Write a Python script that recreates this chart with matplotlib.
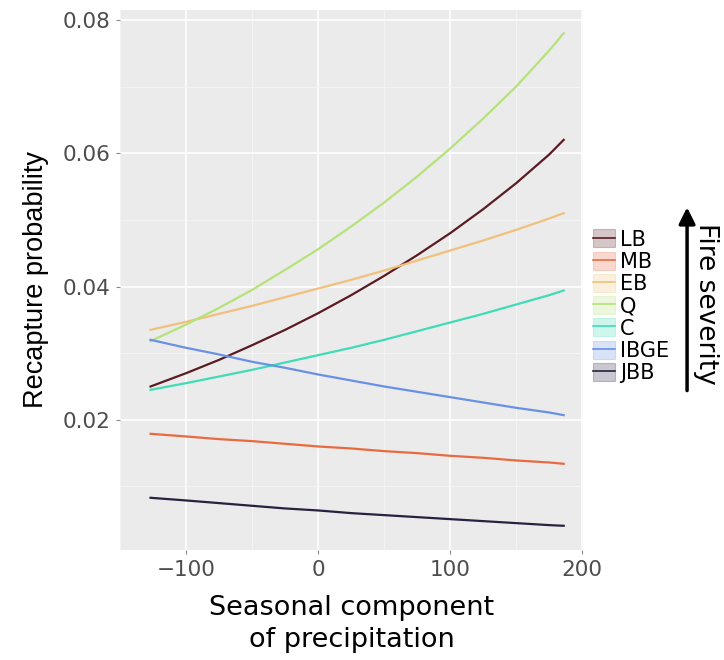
import matplotlib
matplotlib.use('Agg')
import matplotlib.pyplot as plt
from matplotlib.patches import Patch, FancyArrowPatch
from matplotlib.lines import Line2D

x = [-127, -100, -75, -50, -25, 0, 25, 50, 75, 100, 125, 150, 175, 186]

LB = [0.0250, 0.0270, 0.0290, 0.0312, 0.0335, 0.0360, 0.0387, 0.0416, 0.0447,
      0.0480, 0.0516, 0.0555, 0.0598, 0.0620]
MB = [0.0179, 0.0175, 0.0171, 0.0168, 0.0164, 0.0160, 0.0157, 0.0153, 0.0150,
      0.0146, 0.0143, 0.0139, 0.0136, 0.0134]
EB = [0.0335, 0.0347, 0.0359, 0.0371, 0.0384, 0.0397, 0.0410, 0.0424, 0.0439,
      0.0454, 0.0469, 0.0485, 0.0502, 0.0510]
Q = [0.0318, 0.0343, 0.0368, 0.0395, 0.0425, 0.0456, 0.0490, 0.0526, 0.0565,
     0.0607, 0.0652, 0.0700, 0.0754, 0.0780]
C = [0.0245, 0.0255, 0.0265, 0.0275, 0.0286, 0.0297, 0.0308, 0.0320, 0.0333,
     0.0346, 0.0359, 0.0373, 0.0387, 0.0394]
IBGE = [0.0320, 0.0308, 0.0298, 0.0287, 0.0278, 0.0268, 0.0259, 0.0250, 0.0242,
        0.0234, 0.0226, 0.0218, 0.0211, 0.0207]
JBB = [0.0083, 0.0079, 0.0075, 0.0071, 0.0067, 0.0064, 0.0060, 0.0057, 0.0054,
       0.0051, 0.0048, 0.0045, 0.0042, 0.0041]

labels = ['LB', 'MB', 'EB', 'Q', 'C', 'IBGE', 'JBB']
series = [LB, MB, EB, Q, C, IBGE, JBB]
colors = ['#5a1c22', '#e86a40', '#f0c07c', '#b6e27c', '#40dcb6', '#6a90e6', '#2a2040']

fig = plt.figure(figsize=(7.24, 6.6), dpi=100)
ax = fig.add_axes([0.166, 0.167, 0.639, 0.818])
ax.set_facecolor('#ebebeb')

for lab, y, c in zip(labels, series, colors):
    ax.plot(x, y, color=c, linewidth=1.6, label=lab, zorder=3)

ax.set_xlim(-143, 200.5)
ax.set_ylim(0.0005, 0.0815)
ax.set_xticks([-100, 0, 100, 200])
ax.set_xticklabels(['\u2212100', '0', '100', '200'])
ax.set_yticks([0.02, 0.04, 0.06, 0.08])
ax.set_yticklabels(['0.02', '0.04', '0.06', '0.08'])
ax.set_xticks([-150, -50, 50, 150], minor=True)
ax.set_yticks([0.01, 0.03, 0.05, 0.07], minor=True)
ax.grid(which='major', color='white', linewidth=1.1, zorder=0)
ax.grid(which='minor', color='#f5f5f5', linewidth=0.6, zorder=0)
ax.set_axisbelow(True)
for s in ax.spines.values():
    s.set_visible(False)
ax.tick_params(axis='both', which='major', labelsize=15.5, labelcolor='#4d4d4d',
               color='#8a8a8a', length=3, width=0.8, pad=4)
ax.tick_params(axis='both', which='minor', length=0)
for t in ax.get_xticklabels() + ax.get_yticklabels():
    t.set_family('DejaVu Sans')

ax.set_xlabel('Seasonal component\nof precipitation', fontsize=19.5,
              family='DejaVu Sans', labelpad=11, linespacing=1.33)
ax.set_ylabel('Recapture probability', fontsize=19.5, family='Liberation Sans',
              labelpad=10)

# legend: light filled box with the line through it
handles = []
for c in colors:
    handles.append((Patch(facecolor=c, alpha=0.25, edgecolor=c, linewidth=0.8),
                    Line2D([], [], color=c, linewidth=1.2)))
fig.legend(handles, labels, loc='center left', bbox_to_anchor=(0.819, 0.536),
           frameon=False, handlelength=1.05, handleheight=0.95,
           handletextpad=0.25, labelspacing=0.1, borderaxespad=0, borderpad=0,
           prop={'family': 'DejaVu Sans', 'size': 15})

# fire severity arrow
fig.add_artist(FancyArrowPatch((0.949, 0.404), (0.949, 0.69),
               transform=fig.transFigure, arrowstyle='-|>,head_width=0.35,head_length=0.7',
               mutation_scale=14, color='black', linewidth=2.5))
fig.text(0.975, 0.539, 'Fire severity', rotation=-90, fontsize=19,
         family='DejaVu Sans', ha='center', va='center')

fig.savefig('out.png', dpi=100)
